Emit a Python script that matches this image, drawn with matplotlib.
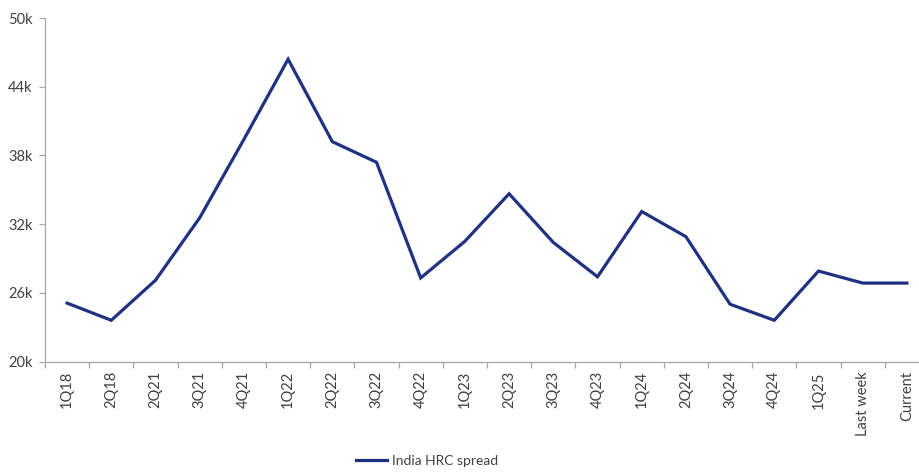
import matplotlib
matplotlib.use("Agg")
import matplotlib.pyplot as plt
import numpy as np

plt.rcParams['font.family'] = ['Lato', 'DejaVu Sans']

categories = ["1Q18", "2Q18", "2Q21", "3Q21", "4Q21", "1Q22", "2Q22", "3Q22", "4Q22",
              "1Q23", "2Q23", "3Q23", "4Q23", "1Q24", "2Q24", "3Q24", "4Q24", "1Q25",
              "Last week", "Current"]
spread_k = [25.1, 23.6, 27.1, 32.55, 39.4, 46.4, 39.2, 37.4, 27.3,
            30.5, 34.65, 30.4, 27.4, 33.1, 30.9, 25.0, 23.6, 27.9,
            26.85, 26.85]
yticks = [20, 26, 32, 38, 44, 50]
ytick_labels = ["20k", "26k", "32k", "38k", "44k", "50k"]
series_name = "India HRC spread"

W, H = 919, 474
fig = plt.figure(figsize=(W / 100, H / 100), dpi=100)
ax = fig.add_axes([45 / W, (H - 361.5) / H, (929 - 45) / W, (361.5 - 18) / H])

x = np.arange(len(categories)) + 0.5
line, = ax.plot(x, spread_k, color="#1F3282", lw=2.3, solid_joinstyle="miter", label=series_name)

ax.set_xlim(0, len(categories))
ax.set_ylim(20, 50)
ax.set_yticks(yticks)
ax.set_yticklabels(ytick_labels)

ax.set_xticks(np.arange(len(categories) + 1))
ax.set_xticklabels([])
ax.set_xticks(x, minor=True)
ax.set_xticklabels(categories, minor=True, rotation=90, va="top", ha="center")

grey = "#A6A6A6"
for s in ["top", "right"]:
    ax.spines[s].set_visible(False)
for s in ["left", "bottom"]:
    ax.spines[s].set_color(grey)
    ax.spines[s].set_linewidth(0.9)

ax.tick_params(axis="y", which="major", direction="out", length=4, width=0.9, color=grey,
               labelsize=10.5, labelcolor="#404040", pad=5)
ax.tick_params(axis="x", which="major", direction="out", length=4, width=0.9, color=grey)
ax.tick_params(axis="x", which="minor", length=0, labelsize=10.5, labelcolor="#404040", pad=7)

fig.legend(handles=[line], labels=[series_name], loc="center left",
           bbox_to_anchor=(343 / W, 1 - 461 / H), frameon=False, fontsize=10,
           handlelength=2.3, handletextpad=0.3, labelcolor="#404040")

fig.savefig("out.png", dpi=100)
